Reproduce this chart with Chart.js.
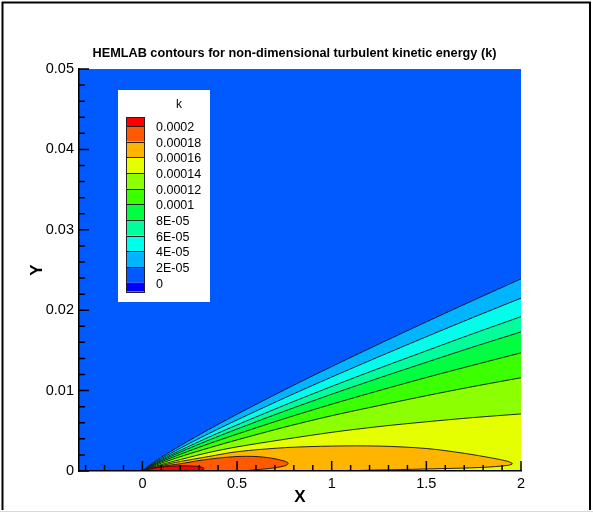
<!DOCTYPE html>
<html>
<head>
<meta charset="utf-8">
<title>HEMLAB contours k</title>
<script src="https://cdn.jsdelivr.net/npm/chart.js@4.4.1/dist/chart.umd.min.js"></script>
<style>
  html, body { margin: 0; padding: 0; background: #fff; }
  canvas { display: block; }
</style>
</head>
<body>
<canvas id="kChart" width="593" height="514"></canvas>
<script>
// contour levels of k, their legend labels and the colour of each band
// bandColors[0] is below the first level, bandColors[i + 1] is above levels[i]
const levels = [0, 2e-5, 4e-5, 6e-5, 8e-5, 1e-4, 1.2e-4, 1.4e-4, 1.6e-4, 1.8e-4, 2e-4];
const levelLabels = ['0', '2E-05', '4E-05', '6E-05', '8E-05', '0.0001', '0.00012', '0.00014', '0.00016', '0.00018', '0.0002'];
const bandColors = ['#0000FF', '#005AFF', '#00B4FF', '#00FFEA', '#00FF9A', '#00FF40', '#3CFF00', '#8CFF00', '#E6FF00', '#FFB400', '#FF5A00', '#FF0000'];

// open contour lines, sampled at xs (they all leave the plate tip at x = 0)
const xs = [0, 0.05, 0.1, 0.2, 0.35, 0.5, 0.75, 1, 1.25, 1.5, 1.75, 2];
const k2e5 = [0, 0.00093, 0.00171, 0.00315, 0.00516, 0.00706, 0.01009, 0.01299, 0.0158, 0.01855, 0.02125, 0.0239];
const k4e5 = [0, 0.00084, 0.00154, 0.00284, 0.00464, 0.00635, 0.00908, 0.01169, 0.01422, 0.0167, 0.01913, 0.0215];
const k6e5 = [0, 0.00076, 0.0014, 0.00257, 0.0042, 0.00573, 0.00818, 0.01052, 0.01277, 0.01495, 0.01711, 0.0192];
const k8e5 = [0, 0.0007, 0.00128, 0.00235, 0.00383, 0.00522, 0.00744, 0.00955, 0.01157, 0.01352, 0.01545, 0.0173];
const k10e5 = [0, 0.00062, 0.00114, 0.00208, 0.00338, 0.00459, 0.00651, 0.00831, 0.01, 0.01163, 0.01318, 0.0147];
const k12e5 = [0, 0.00054, 0.00098, 0.00178, 0.00286, 0.00387, 0.00545, 0.00688, 0.00814, 0.00937, 0.01052, 0.0116];
const k14e5 = [0, 0.00045, 0.0008, 0.00142, 0.0023, 0.003, 0.00394, 0.00481, 0.00553, 0.00612, 0.00665, 0.0071];

// closed contours near the wall (x, y pairs walked round the loop)
const k16X = [0, 0.05, 0.1, 0.2, 0.35, 0.5, 0.75, 1.0, 1.25, 1.5, 1.7, 1.85, 1.93, 1.955, 1.93, 1.8, 1.5, 1.2, 1.05, 0];
const k16Y = [0, 0.0004, 0.00068, 0.00118, 0.0018, 0.0024, 0.0029, 0.0031, 0.0031, 0.0028, 0.0022, 0.0016, 0.0012, 0.0009, 0.0007, 0.00045, 0.00025, 0.0001, 0, 0];
const k18X = [0, 0.05, 0.1, 0.2, 0.3, 0.4, 0.5, 0.6, 0.68, 0.74, 0.77, 0.76, 0.7, 0.6, 0.5, 0];
const k18Y = [0, 0.00033, 0.00058, 0.0009, 0.0013, 0.0016, 0.0018, 0.0018, 0.0016, 0.0013, 0.001, 0.0007, 0.0004, 0.00015, 0, 0];
const k20X = [0, 0.03, 0.08, 0.15, 0.22, 0.28, 0.31, 0.325, 0.32, 0.3, 0];
const k20Y = [0, 0.0002, 0.00042, 0.0006, 0.00065, 0.0006, 0.0005, 0.0003, 0.00015, 0, 0];

// axis ticks
const xTicks = [0, 0.5, 1, 1.5, 2];
const xTickLabels = ['0', '0.5', '1', '1.5', '2'];
const xMinor = [-0.3, -0.2, -0.1, 0.1, 0.2, 0.3, 0.4, 0.6, 0.7, 0.8, 0.9, 1.1, 1.2, 1.3, 1.4, 1.6, 1.7, 1.8, 1.9];
const yTicks = [0, 0.01, 0.02, 0.03, 0.04, 0.05];
const yTickLabels = ['0', '0.01', '0.02', '0.03', '0.04', '0.05'];
const yMinor = [0.002, 0.004, 0.006, 0.008, 0.012, 0.014, 0.016, 0.018, 0.022, 0.024, 0.026, 0.028,
                0.032, 0.034, 0.036, 0.038, 0.042, 0.044, 0.046, 0.048];

const FONT = "'Liberation Sans', Arial, Helvetica, sans-serif";

function curve(ys) {
    return xs.map((x, i) => ({ x: x, y: ys[i] }));
}
function loop(px, py) {
    return px.map((x, i) => ({ x: x, y: py[i] }));
}

const lineStyle = {
    borderColor: '#111',
    borderWidth: 0.9,
    pointRadius: 0,
    tension: 0.3
};

// innermost first so it ends up painted on top
const datasets = [
    { label: '0.0002', data: loop(k20X, k20Y), fill: 'shape', backgroundColor: bandColors[11] },
    { label: '0.00018', data: loop(k18X, k18Y), fill: 'shape', backgroundColor: bandColors[10] },
    { label: '0.00016', data: loop(k16X, k16Y), fill: 'shape', backgroundColor: bandColors[9] },
    { label: '0.00014', data: curve(k14e5), fill: 'origin', backgroundColor: bandColors[8] },
    { label: '0.00012', data: curve(k12e5), fill: 'origin', backgroundColor: bandColors[7] },
    { label: '0.0001', data: curve(k10e5), fill: 'origin', backgroundColor: bandColors[6] },
    { label: '8E-05', data: curve(k8e5), fill: 'origin', backgroundColor: bandColors[5] },
    { label: '6E-05', data: curve(k6e5), fill: 'origin', backgroundColor: bandColors[4] },
    { label: '4E-05', data: curve(k4e5), fill: 'origin', backgroundColor: bandColors[3] },
    { label: '2E-05', data: curve(k2e5), fill: 'origin', backgroundColor: bandColors[2] }
].map(d => Object.assign({}, lineStyle, d));

// white page, blue field behind the contours
const background = {
    id: 'background',
    beforeDraw(chart) {
        const ctx = chart.ctx;
        ctx.save();
        ctx.fillStyle = '#fff';
        ctx.fillRect(0, 0, chart.width, chart.height);
        ctx.restore();
    },
    beforeDatasetsDraw(chart) {
        const { ctx, chartArea: a } = chart;
        ctx.save();
        ctx.fillStyle = bandColors[1];
        ctx.fillRect(a.left, a.top, a.right - a.left, a.bottom - a.top);
        ctx.restore();
    }
};

// tick marks pointing into the plot
const innerTicks = {
    id: 'innerTicks',
    afterDraw(chart) {
        const { ctx, chartArea: a, scales } = chart;
        ctx.save();
        ctx.strokeStyle = '#000';
        ctx.lineWidth = 1.5;
        ctx.beginPath();
        const xt = (v, len) => {
            const px = scales.x.getPixelForValue(v);
            ctx.moveTo(px, a.bottom);
            ctx.lineTo(px, a.bottom - len);
        };
        const yt = (v, len) => {
            const py = scales.y.getPixelForValue(v);
            ctx.moveTo(a.left, py);
            ctx.lineTo(a.left + len, py);
        };
        xTicks.forEach(v => xt(v, 10));
        xMinor.forEach(v => xt(v, 6));
        yTicks.forEach(v => yt(v, 10));
        yMinor.forEach(v => yt(v, 6));
        ctx.stroke();
        ctx.restore();
    }
};

// colour bar legend in the upper left of the field
const contourLegend = {
    id: 'contourLegend',
    afterDraw(chart) {
        const ctx = chart.ctx;
        const box = { left: 118, top: 90, width: 92, height: 212 };
        const sw = { left: 126, width: 19, first: 117, step: 15.66, end: 9 };
        ctx.save();
        ctx.fillStyle = '#fff';
        ctx.fillRect(box.left, box.top, box.width, box.height);

        ctx.fillStyle = '#000';
        ctx.font = '12px ' + FONT;
        ctx.textAlign = 'center';
        ctx.textBaseline = 'middle';
        ctx.fillText('k', 179, 105);

        // bands from the top: red (above the last level) down to dark blue
        const top0 = sw.first + sw.end;
        ctx.lineWidth = 1;
        ctx.strokeStyle = '#222';
        for (let i = bandColors.length - 1; i >= 0; i--) {
            const row = bandColors.length - 1 - i;
            let y, h;
            if (row === 0) { y = sw.first; h = sw.end; }
            else if (i === 0) { y = top0 + (levels.length - 1) * sw.step; h = sw.end; }
            else { y = top0 + (row - 1) * sw.step; h = sw.step; }
            ctx.fillStyle = bandColors[i];
            ctx.fillRect(sw.left, y, sw.width, h);
            ctx.strokeRect(sw.left + 0.5, Math.round(y) + 0.5, sw.width - 1, Math.round(h));
        }

        ctx.fillStyle = '#000';
        ctx.font = '12.5px ' + FONT;
        ctx.textAlign = 'left';
        for (let j = levels.length - 1; j >= 0; j--) {
            const row = levels.length - 1 - j;
            ctx.fillText(levelLabels[j], 156, top0 + row * sw.step + 1.5);
        }
        ctx.restore();
    }
};

// outer frame
const frame = {
    id: 'frame',
    afterDraw(chart) {
        const ctx = chart.ctx;
        ctx.save();
        ctx.strokeStyle = '#000';
        ctx.lineWidth = 2;
        ctx.beginPath();
        ctx.moveTo(2.5, 510);
        ctx.lineTo(2.5, 2.5);
        ctx.lineTo(590, 2.5);
        ctx.lineTo(590, 510);
        ctx.stroke();
        ctx.strokeStyle = '#d8d8d8';
        ctx.lineWidth = 1;
        ctx.beginPath();
        ctx.moveTo(0, 511.5);
        ctx.lineTo(593, 511.5);
        ctx.stroke();
        ctx.restore();
    }
};

new Chart(document.getElementById('kChart'), {
    type: 'line',
    data: { datasets: datasets },
    plugins: [background, innerTicks, contourLegend, frame],
    options: {
        responsive: false,
        animation: false,
        events: [],
        layout: { padding: { left: 0, right: 4, top: 0, bottom: 6 } },
        plugins: {
            legend: { display: false },
            tooltip: { enabled: false },
            title: {
                display: true,
                text: 'HEMLAB contours for non-dimensional turbulent kinetic energy (k)',
                color: '#000',
                font: { family: FONT, size: 12.7, weight: 'bold' },
                padding: { top: 45.4, bottom: 8.4 }
            }
        },
        scales: {
            x: {
                type: 'linear',
                min: -0.335,
                max: 2,
                afterBuildTicks: s => { s.ticks = xTicks.map(v => ({ value: v })); },
                afterFit: s => { s.height = 37; },
                ticks: {
                    color: '#000',
                    padding: 4,
                    maxRotation: 0,
                    autoSkip: false,
                    font: { family: FONT, size: 14.5 },
                    callback: v => xTickLabels[xTicks.indexOf(v)]
                },
                grid: { display: false, drawTicks: false },
                border: { display: true, color: '#000', width: 1.5, z: 1 },
                title: {
                    display: true,
                    text: 'X',
                    color: '#000',
                    font: { family: FONT, size: 17, weight: 'bold' },
                    padding: { top: 0, bottom: 0 }
                }
            },
            y: {
                type: 'linear',
                min: 0,
                max: 0.05,
                afterBuildTicks: s => { s.ticks = yTicks.map(v => ({ value: v })); },
                afterFit: s => { s.width = 79; },
                ticks: {
                    color: '#000',
                    padding: 5,
                    autoSkip: false,
                    font: { family: FONT, size: 14.5 },
                    callback: v => yTickLabels[yTicks.indexOf(v)]
                },
                grid: { display: false, drawTicks: false },
                border: { display: true, color: '#000', width: 1.5, z: 1 },
                title: {
                    display: true,
                    text: 'Y',
                    color: '#000',
                    font: { family: FONT, size: 17, weight: 'bold' },
                    padding: { top: 26.8, bottom: 0 }
                }
            },
            // empty right-hand margin so the title stays centred on the page
            yRight: {
                type: 'linear',
                position: 'right',
                display: true,
                min: 0,
                max: 0.05,
                afterFit: s => { s.width = 68; },
                ticks: { display: false },
                grid: { display: false, drawTicks: false },
                border: { display: false }
            }
        }
    }
});
</script>
</body>
</html>
